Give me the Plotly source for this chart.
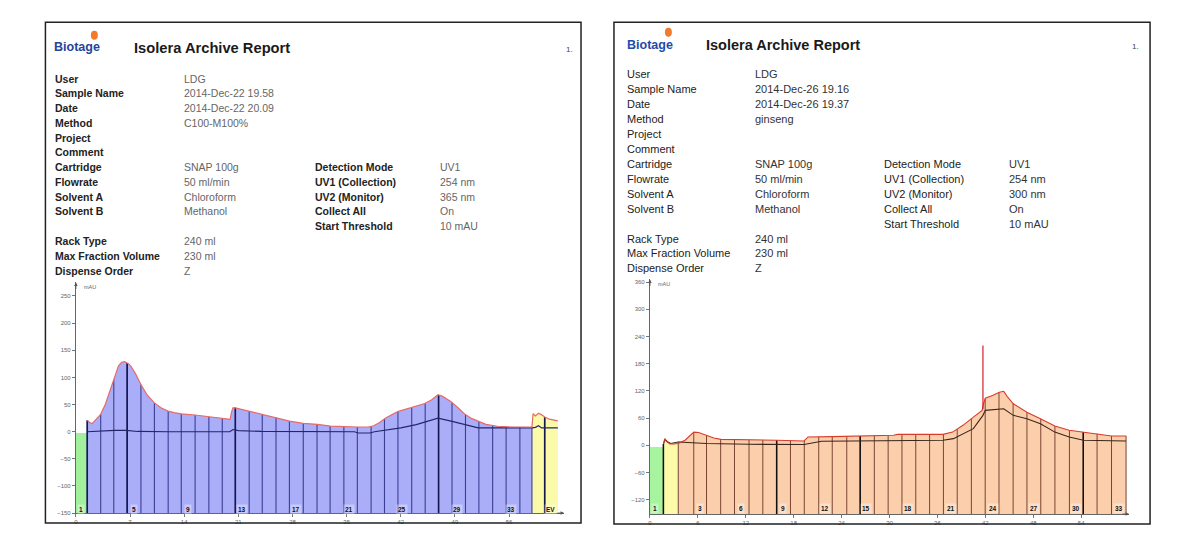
import numpy as np
import plotly.graph_objects as go

W, H = 1187, 537
FONT = "Liberation Sans, Arial, sans-serif"

# ---------------- header data ----------------
info_labels = ["User", "Sample Name", "Date", "Method", "Project", "Comment", "Cartridge",
               "Flowrate", "Solvent A", "Solvent B", "", "Rack Type", "Max Fraction Volume",
               "Dispense Order"]
left_info_values = ["LDG", "2014-Dec-22 19.58", "2014-Dec-22 20.09", "C100-M100%", "", "",
                    "SNAP 100g", "50 ml/min", "Chloroform", "Methanol", "", "240 ml", "230 ml", "Z"]
right_info_values = ["LDG", "2014-Dec-26 19.16", "2014-Dec-26 19.37", "ginseng", "", "",
                     "SNAP 100g", "50 ml/min", "Chloroform", "Methanol", "", "240 ml", "230 ml", "Z"]
detect_labels = ["Detection Mode", "UV1 (Collection)", "UV2 (Monitor)", "Collect All", "Start Threshold"]
left_detect_values = ["UV1", "254 nm", "365 nm", "On", "10 mAU"]
right_detect_values = ["UV1", "254 nm", "300 nm", "On", "10 mAU"]

# ---------------- axes data ----------------
left_x_ticks = [0, 7, 14, 21, 28, 35, 42, 49, 56]
left_y_ticks = [-150, -100, -50, 0, 50, 100, 150, 200, 250]
right_x_ticks = [0, 6, 12, 18, 24, 30, 36, 42, 48, 54]
right_y_ticks = [-120, -60, 0, 60, 120, 180, 240, 300, 360]

# ---------------- left chromatogram ----------------
left_green_x = [0, 1.47]
left_green_y = [-2.5, -2.5]
left_main_x = [1.47, 1.62, 1.78, 2.1, 2.6, 3.2, 3.8, 4.3, 4.9, 5.5, 5.9, 6.3, 6.8, 7.1, 7.7, 8.4,
               9.2, 10.15, 11.0, 11.9, 12.7, 13.6, 15.4, 17.2, 18.9, 19.95, 20.1, 20.3, 20.6, 21.5,
               22.4, 24.1, 25.9, 27.6, 29.4, 31.2, 32.9, 34.6, 36.4, 37.8, 38.5, 39.2, 40.1, 41.6,
               43.4, 45.1, 46.0, 46.8, 47.4, 48.5, 49.4, 50.3, 51.2, 52.1, 53.0, 54.5, 56.0, 58.95]
left_main_y = [21, 19, 17, 15, 22, 32, 50, 70, 96, 121, 128, 129, 125, 121, 107, 87,
               68, 53, 44, 38, 35, 33, 30.7, 27, 24.5, 22.7, 35, 44, 44, 41,
               38, 32, 26, 19.6, 15.3, 13.5, 10.4, 9.2, 8.6, 8.6, 11, 16.6, 25.8, 37,
               44, 52, 59, 68, 65, 55, 44, 32, 24, 18, 13.5, 10, 9, 8.5]
left_yellow_x = [58.95, 59.1, 59.4, 59.8, 60.2, 60.6, 61.2, 61.8, 62.3]
left_yellow_y = [35, 33, 29, 34, 31, 27, 23, 21, 20]
left_uv2_x = [1.47, 3.0, 5.0, 6.5, 8.0, 12, 19.9, 20.3, 21.0, 24, 30, 36.0, 36.5, 38.0, 38.6,
              40, 42, 44, 46.8, 48.5, 50.5, 52.0, 58.95, 59.4, 59.8, 60.2, 62.3]
left_uv2_y = [0, 1.5, 2.5, 2.5, 0.5, 0, 0, 4, 2, 0.5, 0, 0, -2.5, -2.5, 0,
              3, 7, 13, 25, 19.5, 12, 7, 7, 8, 11, 7, 7]
left_fractions = [1.47, 3.21, 4.90, 6.63, 8.41, 10.15, 11.93, 13.62, 15.41, 17.19, 18.92, 20.61,
                  22.40, 24.09, 25.87, 27.60, 29.39, 31.17, 32.86, 34.64, 36.38, 38.16, 39.89,
                  41.63, 43.41, 45.15, 46.88, 48.62, 50.36, 52.09, 53.87, 55.61, 57.39, 58.95, 60.6]
left_dark_fractions = [1.47, 6.63, 20.61, 46.88, 60.6]
left_label_x = [0.7, 7.5, 14.5, 21.5, 28.4, 35.3, 42.2, 49.2, 56.3, 61.4]
left_labels = ["1", "5", "9", "13", "17", "21", "25", "29", "33", "EV"]

# ---------------- right chromatogram ----------------
right_green_x = [0, 1.69]
right_green_y = [-3.7, -3.7]
right_yellow_x = [1.69, 1.85, 2.1, 2.5, 3.0, 3.55]
right_yellow_y = [3, 14, 8, 3, 3, 4]
right_main_x = [3.55, 4.4, 5.0, 5.5, 6.1, 7.1, 8.0, 8.9, 12.4, 15.9, 19.3, 19.6, 19.8, 22.8, 26.3,
                29.7, 30.5, 31.0, 36.7, 37.9, 39.2, 40.5, 41.6, 41.75, 42.0, 42.9, 43.75, 44.3,
                44.8, 45.5, 47.2, 48.9, 50.7, 52.5, 54.3, 56.0, 57.8, 59.62]
right_main_y = [8.8, 11, 22, 29, 28, 22, 16, 13, 12.4, 11, 9.5, 15, 18.3, 19, 20.5,
                20.5, 22, 24, 24, 29, 44, 62, 77, 90, 104, 110, 117, 119,
                106, 91.5, 73, 58.5, 42.5, 33, 29, 25.6, 20.5, 20.5]
right_spike_x = [41.7, 41.7]
right_spike_y = [80, 220]
right_uv2_x = [1.69, 1.9, 2.2, 2.6, 3.55, 5.0, 7.1, 12.4, 19.3, 21.5, 28, 36.7, 38, 40.5, 41.7,
               42.0, 44.3, 45.5, 47.2, 48.9, 50.7, 52.5, 54.3, 59.62]
right_uv2_y = [2, 13, 8, 4, 7.3, 5.9, 3.7, 2.2, 1.5, 8.8, 10, 11, 14.6, 36.6, 66,
               77, 80.5, 66, 58.5, 47.6, 29, 18.3, 11, 9.5]
right_fractions = [1.69, 3.55, 5.49, 7.09, 8.86, 10.59, 12.41, 14.14, 15.87, 17.60, 19.33, 21.14,
                   22.83, 24.65, 26.33, 28.10, 29.83, 31.56, 33.29, 35.02, 36.75, 38.48, 40.25,
                   41.98, 43.71, 45.48, 47.21, 48.94, 50.71, 52.53, 54.26, 55.99, 57.80, 59.62]
right_dark_fractions = [1.69, 15.87, 26.33, 54.26]
right_label_x = [0.65, 6.27, 11.46, 16.7, 21.9, 27.1, 32.3, 37.7, 42.9, 48.1, 53.3, 58.7]
right_labels = ["1", "3", "6", "9", "12", "15", "18", "21", "24", "27", "30", "33"]

# ---------------- layout geometry (pixels) ----------------
L = dict(x0=74, x1=563, yb=516, yt=284, xr=[0, 63.1], yr=[-150, 275])
R = dict(x0=649, x1=1129, yb=517, yt=281, xr=[0, 60], yr=[-152, 366])


def px(x):
    return x / W


def py(y):
    return 1 - y / H


fig = go.Figure()


def poly(xs, ys, base):
    return [xs[0]] + list(xs) + [xs[-1]], [base] + list(ys) + [base]


def add_region(xs, ys, base, color, xa, ya):
    X, Y = poly(xs, ys, base)
    fig.add_trace(go.Scatter(x=X, y=Y, fill="toself", fillcolor=color, mode="lines",
                             line=dict(width=0), hoverinfo="skip", showlegend=False,
                             xaxis=xa, yaxis=ya))


def add_line(xs, ys, color, width, xa, ya):
    fig.add_trace(go.Scatter(x=xs, y=ys, mode="lines", line=dict(color=color, width=width),
                             hoverinfo="skip", showlegend=False, xaxis=xa, yaxis=ya))


def add_fraction_lines(bounds, cx, cy, base, color, width, xa, ya):
    X, Y = [], []
    for b in bounds:
        X += [b, b, None]
        Y += [base, float(np.interp(b, cx, cy)), None]
    add_line(X, Y, color, width, xa, ya)


# ----- left chart -----
lb = L["yr"][0]
add_region(left_green_x, left_green_y, lb, "#a2f09c", "x", "y")
add_region(left_main_x, left_main_y, lb, "#aaaef8", "x", "y")
add_region(left_yellow_x, left_yellow_y, lb, "#fbfaa8", "x", "y")
lcx = left_main_x + left_yellow_x[1:]
lcy = left_main_y + left_yellow_y[1:]
add_fraction_lines(left_fractions, lcx, lcy, lb, "#3b3f92", 1.1, "x", "y")
add_fraction_lines(left_dark_fractions, lcx, lcy, lb, "#15184f", 1.6, "x", "y")
add_line(left_uv2_x, left_uv2_y, "#25266a", 1.1, "x", "y")
add_line(lcx, lcy, "#e66a6a", 1.2, "x", "y")

# ----- right chart -----
rb = R["yr"][0]
add_region(right_green_x, right_green_y, rb, "#a6f3a0", "x2", "y2")
add_region(right_yellow_x, right_yellow_y, rb, "#fcfbaa", "x2", "y2")
add_region(right_main_x, right_main_y, rb, "#fccfac", "x2", "y2")
rcx = right_yellow_x + right_main_x[1:]
rcy = right_yellow_y + right_main_y[1:]
add_fraction_lines(right_fractions, rcx, rcy, rb, "#7a4432", 1.0, "x2", "y2")
add_fraction_lines(right_dark_fractions, rcx, rcy, rb, "#111111", 1.5, "x2", "y2")
add_line(right_uv2_x, right_uv2_y, "#3a261c", 1.1, "x2", "y2")
add_line(rcx, rcy, "#d93a2a", 1.1, "x2", "y2")
add_line(right_spike_x, right_spike_y, "#d4202a", 1.2, "x2", "y2")

ann = []
PAD = 3  # annotation inner padding compensation (px)


def text(x, y, s, size, color, bold=False, anchor="left", family=FONT):
    ann.append(dict(x=px(x - PAD), y=py(y), xref="paper", yref="paper",
                    text=("<b>%s</b>" % s) if bold else s,
                    showarrow=False, xanchor=anchor, yanchor="middle",
                    font=dict(size=size, color=color, family=family)))


# ----- left header -----
text(53, 47, "Biotage", 12.5, "#24459a", bold=True)
text(133, 48, "Isolera Archive Report", 14.7, "#1a1a1a", bold=True)
text(566, 50, "1.", 8, "#444")
for i, (lab, val) in enumerate(zip(info_labels, left_info_values)):
    y = 79 + i * 14.85
    if lab:
        text(54, y, lab, 10.5, "#222", bold=True)
    if val:
        text(183.6, y, val, 10.5, "#666")
for j, (lab, val) in enumerate(zip(detect_labels, left_detect_values)):
    y = 79 + (6 + j) * 14.85
    text(315, y, lab, 10.5, "#222", bold=True)
    text(440, y, val, 10.5, "#666")

# ----- right header -----
text(627, 45, "Biotage", 12.5, "#1f4ca8", bold=True)
text(706, 45, "Isolera Archive Report", 14.5, "#1a1a1a", bold=True)
text(1133, 47, "1.", 8, "#444")
for i, (lab, val) in enumerate(zip(info_labels, right_info_values)):
    y = 74.3 + i * 15.05
    if lab:
        text(627, y, lab, 11, "#222")
    if val:
        text(755, y, val, 11, "#333")
for j, (lab, val) in enumerate(zip(detect_labels, right_detect_values)):
    y = 74.3 + (6 + j) * 15.05
    text(884, y, lab, 11, "#222")
    text(1010, y, val, 11, "#333")

# ----- fraction labels -----
for xv, s in zip(left_label_x, left_labels):
    ann.append(dict(x=xv, y=-143, xref="x", yref="y", text="<b>%s</b>" % s, showarrow=False,
                    font=dict(size=6.5, color="#111", family=FONT), bgcolor="rgba(255,255,255,0.35)",
                    borderpad=1))
for xv, s in zip(right_label_x, right_labels):
    ann.append(dict(x=xv, y=-140, xref="x2", yref="y2", text="<b>%s</b>" % s, showarrow=False,
                    font=dict(size=6.5, color="#111", family=FONT), bgcolor="rgba(255,255,255,0.35)",
                    borderpad=1))

# ----- axis arrows & unit labels -----
for xr, yr, ax, ay in [("x", "y", L["xr"], L["yr"]), ("x2", "y2", R["xr"], R["yr"])]:
    ann.append(dict(x=ax[0], y=ay[1], xref=xr, yref=yr, text="", showarrow=True, ax=0, ay=8,
                    arrowhead=2, arrowsize=0.7, arrowwidth=1, arrowcolor="#555"))
    ann.append(dict(x=ax[1], y=ay[0], xref=xr, yref=yr, text="", showarrow=True, ax=-8, ay=0,
                    arrowhead=2, arrowsize=0.7, arrowwidth=1, arrowcolor="#555"))
    ann.append(dict(x=ax[1] * 0.012, y=ay[1], xref=xr, yref=yr, text="mAU", showarrow=False,
                    xanchor="left", yanchor="top", font=dict(size=5.5, color="#666", family=FONT)))

# ----- panel borders -----
shapes = [
    dict(type="rect", xref="paper", yref="paper", x0=px(43.5), x1=px(580), y0=py(526), y1=py(22.5),
         line=dict(color="#222", width=1.5)),
    dict(type="rect", xref="paper", yref="paper", x0=px(613), x1=px(1150), y0=py(527), y1=py(22.5),
         line=dict(color="#222", width=1.5)),
    # flame logos
    dict(type="circle", xref="paper", yref="paper", x0=px(89), x1=px(96), y0=py(40), y1=py(31),
         fillcolor="#f27a2c", line=dict(width=0)),
    dict(type="circle", xref="paper", yref="paper", x0=px(664), x1=px(671), y0=py(37), y1=py(28),
         fillcolor="#f27a2c", line=dict(width=0)),
]


def axis_x(g, ticks):
    return dict(domain=[px(g["x0"]), px(g["x1"])], range=g["xr"], tickvals=ticks,
                ticks="outside", ticklen=3, tickcolor="#777", showgrid=False, zeroline=False,
                showline=True, linecolor="#666", linewidth=1,
                tickfont=dict(size=6, color="#666", family=FONT))


def axis_y(g, ticks):
    return dict(domain=[py(g["yb"]), py(g["yt"])], range=g["yr"], tickvals=ticks,
                ticks="outside", ticklen=3, tickcolor="#777", showgrid=False, zeroline=False,
                showline=True, linecolor="#666", linewidth=1,
                tickfont=dict(size=6, color="#666", family=FONT))


xa2 = axis_x(R, right_x_ticks)
xa2["anchor"] = "y2"
ya2 = axis_y(R, right_y_ticks)
ya2["anchor"] = "x2"
xa1 = axis_x(L, left_x_ticks)
xa1["anchor"] = "y"
ya1 = axis_y(L, left_y_ticks)
ya1["anchor"] = "x"

fig.update_layout(
    width=W, height=H, autosize=False,
    margin=dict(l=0, r=0, t=0, b=0),
    paper_bgcolor="white", plot_bgcolor="rgba(0,0,0,0)",
    xaxis=xa1, yaxis=ya1, xaxis2=xa2, yaxis2=ya2,
    annotations=ann, shapes=shapes, showlegend=False,
    font=dict(family=FONT),
)

fig.write_html("out.html", config={"displayModeBar": False},
               post_script="document.body.style.margin='0';document.body.style.overflow='hidden';")
